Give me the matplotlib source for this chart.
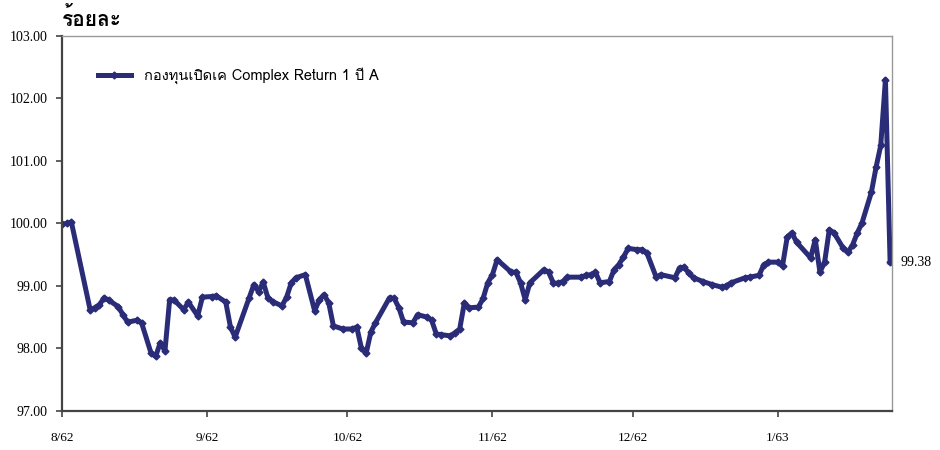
import matplotlib
matplotlib.use("Agg")
import matplotlib.pyplot as plt
from matplotlib import font_manager
from matplotlib.ft2font import FT2Font
import pandas as pd

# NAV per unit (day offset from 1 Aug 2019)
start = pd.Timestamp("2019-08-01")
days = [0, 1, 2, 6, 7, 8, 9, 10, 12, 13, 14, 16, 17, 19, 20, 21, 22, 23, 24, 26,
        27, 29, 30, 32, 33, 35, 36, 37, 40, 41, 42, 43, 44, 45, 47, 48, 49, 50, 52, 54,
        55, 56, 57, 58, 60, 62, 63, 64, 65, 66, 67, 70, 71, 72, 73, 75, 76, 78, 79, 80,
        81, 83, 84, 85, 86, 87, 89, 90, 91, 92, 93, 96, 97, 98, 99, 100, 103, 104, 105, 106,
        107, 108, 111, 112, 113, 114, 115, 117, 118, 119, 120, 121, 123, 124, 125, 127, 128, 131, 132, 133,
        134, 135, 137, 139, 141, 142, 143, 146, 147, 149, 150, 151, 153, 154, 155, 156, 157, 160, 161, 162,
        163, 164, 165, 167, 168, 169, 170, 171, 173, 174, 175, 176, 177]
nav = [99.99, 100.00, 100.02, 98.62, 98.65, 98.70, 98.81, 98.77, 98.67, 98.54,
       98.42, 98.45, 98.41, 97.93, 97.87, 98.09, 97.96, 98.78, 98.77, 98.62,
       98.74, 98.52, 98.82, 98.83, 98.84, 98.74, 98.34, 98.18, 98.81, 99.02,
       98.91, 99.06, 98.81, 98.75, 98.68, 98.82, 99.05, 99.13, 99.18, 98.60,
       98.78, 98.86, 98.73, 98.36, 98.31, 98.31, 98.34, 98.00, 97.92, 98.26,
       98.41, 98.81, 98.80, 98.65, 98.42, 98.41, 98.54, 98.50, 98.45, 98.23,
       98.22, 98.20, 98.25, 98.31, 98.73, 98.65, 98.66, 98.80, 99.05, 99.18,
       99.42, 99.22, 99.22, 99.05, 98.78, 99.05, 99.26, 99.22, 99.05, 99.04,
       99.07, 99.14, 99.14, 99.17, 99.18, 99.22, 99.05, 99.07, 99.26, 99.34,
       99.46, 99.60, 99.58, 99.58, 99.53, 99.14, 99.18, 99.13, 99.29, 99.30,
       99.20, 99.13, 99.07, 99.02, 98.98, 99.00, 99.05, 99.13, 99.14, 99.17,
       99.34, 99.38, 99.38, 99.32, 99.78, 99.85, 99.70, 99.45, 99.74, 99.22,
       99.38, 99.90, 99.85, 99.60, 99.54, 99.66, 99.85, 100.01, 100.50, 100.90,
       101.25, 102.30, 99.38]

tick_dates = ["2019-08-01", "2019-09-01", "2019-10-01", "2019-11-01", "2019-12-01", "2020-01-01"]
tick_labels = ["8/62", "9/62", "10/62", "11/62", "12/62", "1/63"]
y_ticks = [97, 98, 99, 100, 101, 102, 103]
series_name = "กองทุนเปิดเค Complex Return 1 ปี A"
y_title = "ร้อยละ"
last_label = "99.38"

# pick any installed font that has Thai glyphs
thai_font = "DejaVu Sans"
for f in font_manager.fontManager.ttflist:
    try:
        if 0x0E01 in FT2Font(f.fname).get_charmap():
            thai_font = f.name
            break
    except Exception:
        pass

dates = [start + pd.Timedelta(days=d) for d in days]
navy = "#2a2c78"

fig = plt.figure(figsize=(9.4, 4.5), dpi=100)
ax = fig.add_axes([0.066, 0.087, 0.883, 0.833])

ax.plot(dates, nav, color=navy, lw=3.6, marker="D", ms=3.5, label=series_name,
        solid_joinstyle="round")

ax.set_ylim(97, 103)
ax.set_xlim(start, dates[-1] + pd.Timedelta(hours=10))
ax.set_yticks(y_ticks)
ax.set_yticklabels([f"{v:.2f}" for v in y_ticks], family="Liberation Serif", fontsize=10)
ax.set_xticks(pd.to_datetime(tick_dates))
ax.set_xticklabels(tick_labels, family="Liberation Serif", fontsize=9.5)
ax.tick_params(axis="y", direction="out", length=4.5, width=1.2, color="#444444", pad=6)
ax.tick_params(axis="x", direction="out", length=4.5, width=1.2, color="#444444", pad=11)

for side in ["left", "bottom"]:
    ax.spines[side].set_color("#444444")
    ax.spines[side].set_linewidth(1.6)
for side in ["top", "right"]:
    ax.spines[side].set_color("#999999")
    ax.spines[side].set_linewidth(1.0)

ax.text(dates[-1] + pd.Timedelta(days=2.3), nav[-1], last_label, va="center", ha="left",
        family="Liberation Serif", fontsize=10)

fig.text(0.066, 0.96, y_title, family=thai_font, fontsize=15, fontweight="bold",
         va="center", ha="left")

ax.legend(loc="upper left", bbox_to_anchor=(0.027, 0.95), frameon=False,
          handlelength=2.3, handletextpad=0.9,
          prop={"family": [thai_font, "DejaVu Sans"], "size": 10.5})

fig.savefig("out.png", dpi=100)
